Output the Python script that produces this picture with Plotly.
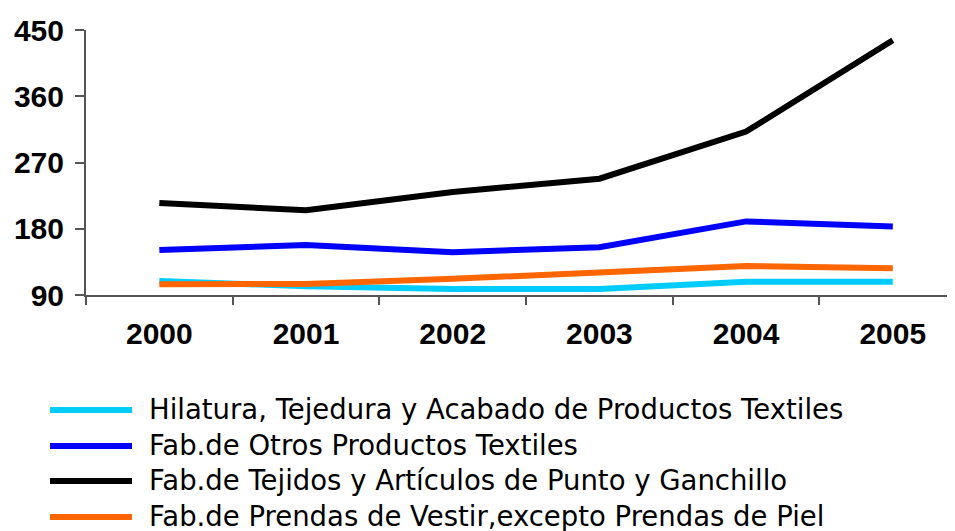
import plotly.graph_objects as go

years = ["2000", "2001", "2002", "2003", "2004", "2005"]
hilatura = [109, 102, 98, 98, 108, 108]
otros = [151, 158, 148, 155, 190, 183]
tejidos = [215, 205, 230, 248, 312, 436]
prendas = [104.5, 105, 112, 120, 129.5, 126.5]

names = [
    "Hilatura, Tejedura y Acabado de Productos Textiles",
    "Fab.de Otros Productos Textiles",
    "Fab.de Tejidos y Artículos de Punto y Ganchillo",
    "Fab.de Prendas de Vestir,excepto Prendas de Piel",
]
colors = ["#00CCFF", "#0000FF", "#000000", "#FF6600"]
series = [hilatura, otros, tejidos, prendas]
y_ticks = [90, 180, 270, 360, 450]

OFF = 8  # page body margin
W, H = 955 - OFF, 531 - OFF
ML, MR, MT = 86 - OFF, 0, 30 - OFF
MB = H - (295 - OFF)
PW, PH = W - ML - MR, H - MT - MB


def px_x(x):
    return (x - OFF - ML) / PW


def px_y(y):
    return (H - MB - (y - OFF)) / PH


fig = go.Figure()
for name, col, vals in zip(names, colors, series):
    fig.add_trace(go.Scatter(
        x=years, y=vals, name=name, mode="lines",
        line=dict(color=col, width=6), showlegend=False,
    ))

# custom legend (long line samples)
leg_y = [410, 446, 481, 517]
for name, col, yy in zip(names, colors, leg_y):
    fig.add_shape(type="line", xref="paper", yref="paper",
                  x0=px_x(50), x1=px_x(132), y0=px_y(yy), y1=px_y(yy),
                  line=dict(color=col, width=6))
    fig.add_annotation(text=name, xref="paper", yref="paper",
                       x=px_x(147), y=px_y(yy - 1), xanchor="left", yanchor="middle",
                       showarrow=False,
                       font=dict(family="DejaVu Sans", size=27.5, color="#000"))

fig.update_layout(
    width=W, height=H,
    margin=dict(l=ML, r=MR, t=MT, b=MB, autoexpand=False),
    paper_bgcolor="white", plot_bgcolor="white",
    font=dict(family="Liberation Sans, Arial", color="#000"),
    xaxis=dict(
        type="category", range=[-0.5, 5.424],
        tickson="boundaries", ticks="outside", ticklen=8, tickwidth=1.5, tickcolor="#555",
        showline=True, linecolor="#555", linewidth=2,
        showgrid=False, zeroline=False,
        tickfont=dict(family="Liberation Sans, Arial", size=30, color="#000", weight="bold"),
        ticklabelstandoff=11,
    ),
    yaxis=dict(
        range=[90, 450], tickvals=y_ticks, ticktext=[str(v) for v in y_ticks],
        ticks="outside", ticklen=9, tickwidth=1.5, tickcolor="#555",
        showline=True, linecolor="#555", linewidth=2,
        showgrid=False, zeroline=False,
        tickfont=dict(family="Liberation Sans, Arial", size=30, color="#000", weight="bold"),
        ticklabelstandoff=5,
    ),
)

fig.write_html("out.html")
